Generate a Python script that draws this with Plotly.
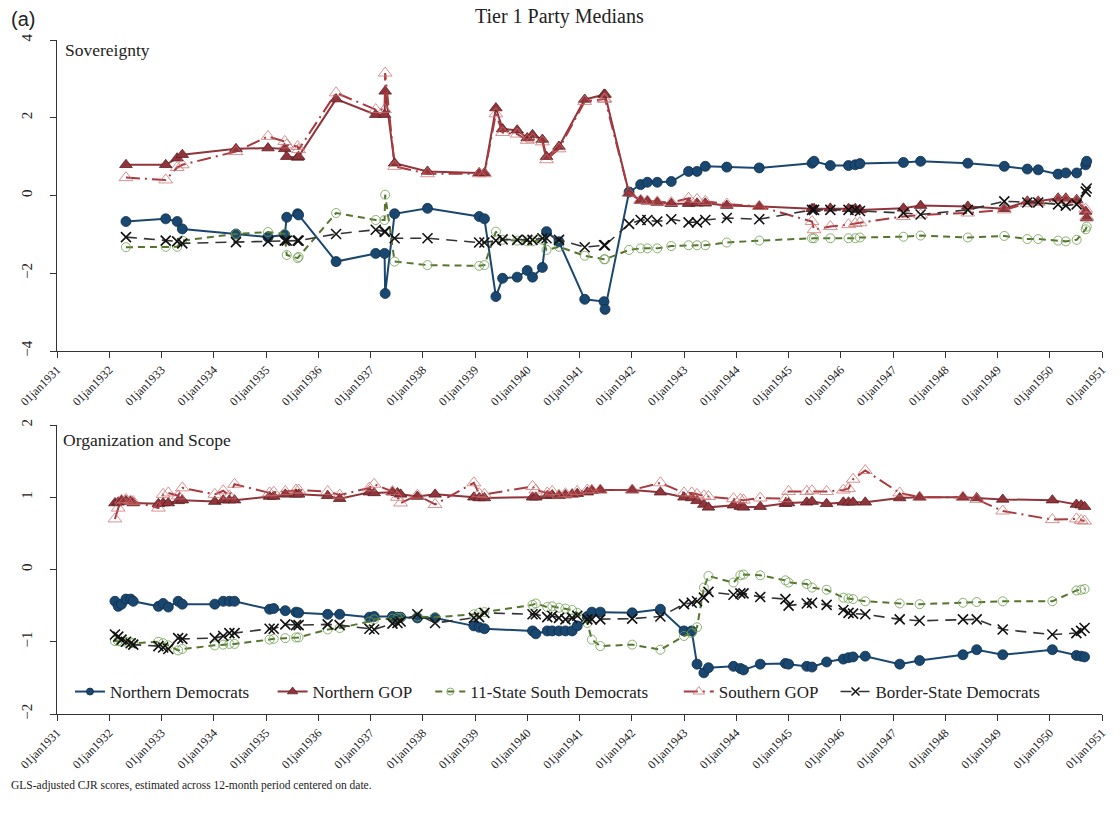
import plotly.graph_objects as go

# ---------------- Sovereignty panel ----------------
sov_dates = [
    "1932-04-27", "1933-01-30", "1933-04-20", "1933-05-26", "1934-06-05", "1935-01-15",
    "1935-05-12", "1935-05-26", "1935-08-10", "1935-08-17", "1936-05-05", "1937-02-06",
    "1937-04-09", "1937-04-13", "1937-06-18", "1938-02-03", "1939-01-30", "1939-03-08",
    "1939-05-27", "1939-07-13", "1939-10-23", "1940-01-01", "1940-02-07", "1940-04-16",
    "1940-05-15", "1940-08-10", "1941-02-06", "1941-06-21", "1941-06-28", "1941-12-13",
    "1942-03-04", "1942-04-20", "1942-06-28", "1942-10-04", "1943-02-02", "1943-04-02",
    "1943-05-30", "1943-10-27", "1944-06-10", "1945-06-14", "1945-06-28", "1945-10-20",
    "1946-02-24", "1946-04-12", "1946-05-15", "1947-03-15", "1947-07-13", "1948-06-07",
    "1949-02-17", "1949-07-28", "1949-10-12", "1950-02-28", "1950-04-23", "1950-07-08",
    "1950-09-09", "1950-09-16",
]
sov_north_dem = [
    -0.67, -0.60, -0.67, -0.86, -0.99, -1.07, -1.01, -0.56, -0.47, -0.50, -1.70, -1.49,
    -1.49, -2.52, -0.47, -0.33, -0.54, -0.60, -2.60, -2.13, -2.10, -1.93, -2.10, -1.85,
    -0.93, -1.19, -2.67, -2.73, -2.93, 0.09, 0.28, 0.34, 0.34, 0.36, 0.62, 0.62,
    0.75, 0.73, 0.71, 0.83, 0.88, 0.77, 0.77, 0.79, 0.82, 0.85, 0.88, 0.83,
    0.75, 0.68, 0.66, 0.55, 0.58, 0.58, 0.79, 0.88,
]
sov_north_gop = [
    0.79, 0.79, 0.96, 1.05, 1.20, 1.22, 1.20, 1.00, 0.98, 1.00, 2.48, 2.08,
    2.08, 2.68, 0.83, 0.62, 0.58, 0.58, 2.25, 1.71, 1.68, 1.48, 1.56, 1.44,
    1.00, 1.26, 2.47, 2.60, 2.60, 0.06, -0.13, -0.15, -0.18, -0.21, -0.21, -0.20,
    -0.20, -0.26, -0.28, -0.34, -0.34, -0.33, -0.34, -0.34, -0.37, -0.33, -0.26, -0.28,
    -0.34, -0.15, -0.15, -0.07, -0.07, -0.11, -0.41, -0.58,
]
sov_south_dem = [
    -1.33, -1.32, -1.32, -1.16, -0.99, -0.94, -0.99, -1.53, -1.61, -1.58, -0.45, -0.63,
    -0.63, 0.02, -1.70, -1.79, -1.81, -1.79, -0.93, -1.14, -1.16, -1.18, -1.18, -1.14,
    -1.40, -1.32, -1.55, -1.64, -1.64, -1.40, -1.36, -1.36, -1.36, -1.30, -1.28, -1.28,
    -1.28, -1.21, -1.16, -1.10, -1.10, -1.10, -1.10, -1.10, -1.08, -1.06, -1.03, -1.08,
    -1.04, -1.12, -1.12, -1.16, -1.18, -1.14, -0.87, -0.80,
]
sov_south_gop = [
    0.46, 0.40, 0.72, 0.79, 1.13, 1.52, 1.39, 1.30, 1.26, 1.18, 2.64, 2.21,
    2.21, 3.15, 0.75, 0.56, 0.56, 0.56, 2.10, 1.62, 1.58, 1.42, 1.45, 1.38,
    0.92, 1.20, 2.42, 2.48, 2.48, 0.06, -0.12, -0.14, -0.16, -0.18, -0.07, -0.10,
    -0.15, -0.22, -0.28, -0.67, -0.88, -0.80, -0.75, -0.72, -0.70, -0.54, -0.50, -0.45,
    -0.37, -0.20, -0.18, -0.12, -0.12, -0.15, -0.35, -0.55,
]
sov_border_dem = [
    -1.07, -1.16, -1.18, -1.23, -1.20, -1.18, -1.16, -1.16, -1.16, -1.16, -0.99, -0.88,
    -0.93, -0.93, -1.10, -1.10, -1.21, -1.21, -1.16, -1.13, -1.14, -1.14, -1.14, -1.10,
    -1.10, -1.14, -1.33, -1.28, -1.28, -0.73, -0.63, -0.63, -0.67, -0.61, -0.69, -0.69,
    -0.63, -0.58, -0.61, -0.37, -0.37, -0.37, -0.37, -0.37, -0.40, -0.45, -0.49, -0.37,
    -0.15, -0.18, -0.18, -0.23, -0.26, -0.23, 0.10, 0.18,
]

# ---------------- Organization and Scope panel ----------------
org_dates = [
    "1932-02-10", "1932-03-04", "1932-03-27", "1932-04-27", "1932-05-30", "1932-06-17",
    "1932-12-10", "1933-01-12", "1933-02-17", "1933-04-27", "1933-05-26", "1934-01-08",
    "1934-03-08", "1934-04-20", "1934-05-26", "1935-01-26", "1935-02-24", "1935-05-16",
    "1935-07-30", "1935-08-17", "1936-03-07", "1936-05-30", "1936-12-24", "1937-01-26",
    "1937-06-03", "1937-07-08", "1937-07-30", "1937-11-24", "1938-03-28", "1938-12-24",
    "1939-01-30", "1939-03-08", "1940-02-07", "1940-03-01", "1940-05-20", "1940-06-24",
    "1940-08-10", "1940-09-24", "1940-11-10", "1940-12-16", "1941-02-24", "1941-03-28",
    "1941-05-26", "1942-01-04", "1942-07-20", "1943-01-01", "1943-02-24", "1943-04-02",
    "1943-05-20", "1943-06-21", "1943-12-13", "1944-01-30", "1944-02-21", "1944-06-17",
    "1944-12-10", "1945-01-01", "1945-05-08", "1945-06-14", "1945-09-24", "1946-01-19",
    "1946-02-24", "1946-03-28", "1946-06-21", "1947-02-17", "1947-07-06", "1948-05-04",
    "1948-08-08", "1949-02-06", "1950-01-19", "1950-07-06", "1950-08-08", "1950-09-01",
]
org_north_dem = [
    -0.44, -0.51, -0.48, -0.41, -0.41, -0.44, -0.51, -0.47, -0.52, -0.44, -0.48, -0.48,
    -0.44, -0.44, -0.44, -0.55, -0.54, -0.57, -0.59, -0.60, -0.62, -0.62, -0.66, -0.65,
    -0.65, -0.66, -0.66, -0.67, -0.67, -0.78, -0.80, -0.82, -0.85, -0.89, -0.85, -0.85,
    -0.85, -0.85, -0.85, -0.78, -0.65, -0.59, -0.59, -0.60, -0.55, -0.85, -0.85, -1.31,
    -1.43, -1.36, -1.34, -1.37, -1.39, -1.31, -1.30, -1.31, -1.34, -1.35, -1.28, -1.24,
    -1.22, -1.21, -1.20, -1.31, -1.26, -1.18, -1.11, -1.18, -1.11, -1.19, -1.20, -1.21,
]
org_north_gop = [
    0.92, 0.93, 0.95, 0.95, 0.94, 0.92, 0.91, 0.92, 0.92, 0.95, 0.96, 0.94,
    0.96, 0.96, 0.96, 1.01, 1.01, 1.04, 1.04, 1.04, 1.02, 0.98, 1.07, 1.06,
    1.07, 1.06, 1.04, 1.01, 1.04, 1.00, 0.99, 0.99, 1.00, 1.00, 1.02, 1.03,
    1.02, 1.03, 1.04, 1.05, 1.07, 1.09, 1.10, 1.10, 1.07, 1.00, 0.99, 0.95,
    0.90, 0.86, 0.89, 0.87, 0.86, 0.87, 0.91, 0.92, 0.93, 0.94, 0.91, 0.93,
    0.93, 0.93, 0.93, 0.99, 1.00, 1.00, 0.99, 0.97, 0.96, 0.90, 0.89, 0.87,
]
org_south_dem = [
    -0.99, -0.99, -1.00, -1.00, -1.01, -1.02, -1.00, -1.02, -1.05, -1.12, -1.10, -1.05,
    -1.04, -1.03, -1.03, -0.97, -0.96, -0.95, -0.94, -0.94, -0.83, -0.81, -0.72, -0.69,
    -0.68, -0.67, -0.67, -0.65, -0.66, -0.62, -0.60, -0.59, -0.49, -0.47, -0.52, -0.51,
    -0.53, -0.54, -0.56, -0.60, -0.74, -0.97, -1.06, -1.04, -1.11, -0.92, -0.88, -0.80,
    -0.25, -0.09, -0.18, -0.08, -0.07, -0.08, -0.15, -0.18, -0.20, -0.25, -0.28, -0.39,
    -0.40, -0.41, -0.44, -0.47, -0.48, -0.46, -0.45, -0.44, -0.44, -0.29, -0.28, -0.27,
]
org_south_gop = [
    0.70, 0.85, 0.96, 0.97, 0.95, 0.94, 0.85, 1.04, 1.06, 1.02, 1.13, 1.04,
    1.09, 1.02, 1.18, 1.06, 1.07, 1.08, 1.10, 1.10, 1.08, 1.03, 1.13, 1.18,
    1.08, 1.00, 0.92, 1.03, 0.90, 1.20, 1.05, 1.04, 1.15, 1.10, 1.06, 1.08,
    1.03, 1.05, 1.04, 1.08, 1.10, 1.10, 1.10, 1.10, 1.20, 1.06, 1.06, 1.04,
    1.02, 1.01, 0.98, 0.97, 0.96, 0.99, 0.98, 1.08, 1.08, 1.09, 1.08, 1.10,
    1.12, 1.25, 1.37, 1.06, 1.00, 1.00, 0.97, 0.81, 0.69, 0.70, 0.68, 0.67,
]
org_border_dem = [
    -0.90, -0.93, -0.97, -1.00, -1.02, -1.04, -1.06, -1.08, -1.10, -0.95, -0.96, -0.95,
    -0.92, -0.88, -0.88, -0.82, -0.82, -0.76, -0.77, -0.77, -0.76, -0.77, -0.82, -0.83,
    -0.75, -0.74, -0.72, -0.62, -0.74, -0.67, -0.66, -0.60, -0.62, -0.62, -0.66, -0.64,
    -0.67, -0.69, -0.67, -0.64, -0.69, -0.69, -0.69, -0.68, -0.65, -0.48, -0.46, -0.44,
    -0.39, -0.31, -0.35, -0.33, -0.33, -0.38, -0.41, -0.50, -0.47, -0.46, -0.49, -0.56,
    -0.60, -0.61, -0.62, -0.69, -0.71, -0.69, -0.69, -0.83, -0.90, -0.88, -0.85, -0.81,
]

# ---------------- axis ticks ----------------
tick_dates = [f"{y}-01-01" for y in range(1931, 1952)]
tick_labels = [f"01jan{y}" for y in range(1931, 1952)]
sov_yticks = [-4, -2, 0, 2, 4]
org_yticks = [-2, -1, 0, 1, 2]

SERIF = "Liberation Serif"
NAVY = "#1a476f"
MAROON = "#90353b"
GREEN = "#55752f"
SGOP_LINE = "#a83a40"
SGOP_MARK = "rgba(205,110,110,0.75)"

series_names = ["Northern Democrats", "Northern GOP", "11-State South Democrats",
                "Southern GOP", "Border-State Democrats"]

line_style = {
    "Northern Democrats": dict(color=NAVY, width=2),
    "Northern GOP": dict(color=MAROON, width=2),
    "11-State South Democrats": dict(color=GREEN, width=2, dash="7px,5px"),
    "Southern GOP": dict(color=SGOP_LINE, width=2, dash="14px,5px,2px,5px"),
    "Border-State Democrats": dict(color="#333333", width=1.6, dash="11px,7px"),
}
marker_style = {
    "Northern Democrats": dict(symbol="circle", color=NAVY, line=dict(color="#0f2f4d", width=0.8)),
    "Northern GOP": dict(symbol="triangle-up", color=MAROON, line=dict(color="#5e1e22", width=0.8)),
    "11-State South Democrats": dict(symbol="circle-open", color="rgba(110,160,80,0.8)", line=dict(width=1)),
    "Southern GOP": dict(symbol="triangle-up-open", color=SGOP_MARK, line=dict(width=1)),
    "Border-State Democrats": dict(symbol="x-thin-open", color="#111111", line=dict(width=1.6, color="#111111")),
}
plot_marker_size = {"Northern Democrats": 10, "Northern GOP": 11, "11-State South Democrats": 9,
                    "Southern GOP": 12, "Border-State Democrats": 10}
key_marker_size = {"Northern Democrats": 7, "Northern GOP": 9, "11-State South Democrats": 7,
                   "Southern GOP": 10, "Border-State Democrats": 8}

panels = [
    ("x", "y", sov_dates, [sov_north_dem, sov_north_gop, sov_south_dem, sov_south_gop, sov_border_dem]),
    ("x2", "y2", org_dates, [org_north_dem, org_north_gop, org_south_dem, org_south_gop, org_border_dem]),
]

fig = go.Figure()
for xa, ya, dates, series in panels:
    for name, vals in zip(series_names, series):
        fig.add_trace(go.Scatter(
            x=dates, y=vals, name=name, mode="lines+markers",
            line=line_style[name],
            marker=dict(marker_style[name], size=plot_marker_size[name]),
            xaxis=xa, yaxis=ya, showlegend=False,
        ))

# key entries (smaller symbols), one legend box per series placed along the bottom panel
legend_ids = ["legend", "legend2", "legend3", "legend4", "legend5"]
legend_text_x = [112, 315, 473, 722, 879]
for name, lid in zip(series_names, legend_ids):
    fig.add_trace(go.Scatter(
        x=[None], y=[None], name=name, mode="lines+markers",
        line=line_style[name],
        marker=dict(marker_style[name], size=key_marker_size[name]),
        xaxis="x2", yaxis="y2", showlegend=True, legend=lid,
    ))

xaxis_common = dict(
    type="date", range=["1931-01-01", "1951-01-01"],
    tickmode="array", tickvals=tick_dates, ticktext=tick_labels,
    tickangle=-45, tickfont=dict(family=SERIF, size=12, color="#222"),
    showline=True, linecolor="#333", linewidth=1.3,
    ticks="outside", ticklen=6, tickcolor="#333", tickwidth=1.3,
    showgrid=False, zeroline=False,
)
yaxis_common = dict(
    tickangle=-90, tickfont=dict(family=SERIF, size=15, color="#222"),
    showline=True, linecolor="#333", linewidth=1.3,
    ticks="outside", ticklen=6, tickcolor="#333", tickwidth=1.3,
    ticklabelstandoff=12,
    showgrid=False, zeroline=False,
)

plot_left, plot_width = 57, 1047
plot_top, plot_bottom = 40, 714
H = plot_bottom - plot_top


def frac(py):
    return (plot_bottom - py) / H


def xfrac(px):
    return (px - plot_left) / plot_width


layout_legends = {}
for lid, tx in zip(legend_ids, legend_text_x):
    layout_legends[lid] = dict(
        orientation="h", x=xfrac(tx - 42), y=frac(692), xanchor="left", yanchor="middle",
        font=dict(family=SERIF, size=17, color="#222"),
        bgcolor="rgba(0,0,0,0)", itemwidth=30,
    )

fig.update_layout(
    width=1120, height=820,
    margin=dict(l=plot_left, r=1120 - plot_left - plot_width, t=plot_top, b=820 - plot_bottom),
    paper_bgcolor="white", plot_bgcolor="white",
    font=dict(family=SERIF, color="#222"),
    xaxis=dict(xaxis_common, domain=[0, 1], anchor="y"),
    yaxis=dict(yaxis_common, domain=[frac(351), 1.0], range=[-4, 4],
               tickvals=sov_yticks, anchor="x"),
    xaxis2=dict(xaxis_common, domain=[0, 1], anchor="y2"),
    yaxis2=dict(yaxis_common, domain=[0, frac(425)], range=[-2, 2],
                tickvals=org_yticks, anchor="x2"),
    showlegend=True,
    **layout_legends,
)

annotations = [
    dict(text="(a)", x=xfrac(9), y=frac(19), xanchor="left", yanchor="middle",
         font=dict(family="Liberation Sans", size=20, color="#222")),
    dict(text="Tier 1 Party Medians", x=xfrac(560), y=frac(17), xanchor="center",
         yanchor="middle", font=dict(family=SERIF, size=20, color="#222")),
    dict(text="Sovereignty", x=xfrac(63), y=frac(50), xanchor="left", yanchor="middle",
         font=dict(family=SERIF, size=17.5, color="#222")),
    dict(text="Organization and Scope", x=xfrac(61), y=frac(440), xanchor="left",
         yanchor="middle", font=dict(family=SERIF, size=17.5, color="#222")),
    dict(text="GLS-adjusted CJR scores, estimated across 12-month period centered on date.",
         x=xfrac(9), y=frac(785), xanchor="left", yanchor="middle",
         font=dict(family=SERIF, size=11.5, color="#222")),
]
for a in annotations:
    a.update(xref="paper", yref="paper", showarrow=False)
fig.update_layout(annotations=annotations)

fig.write_html("out.html")
